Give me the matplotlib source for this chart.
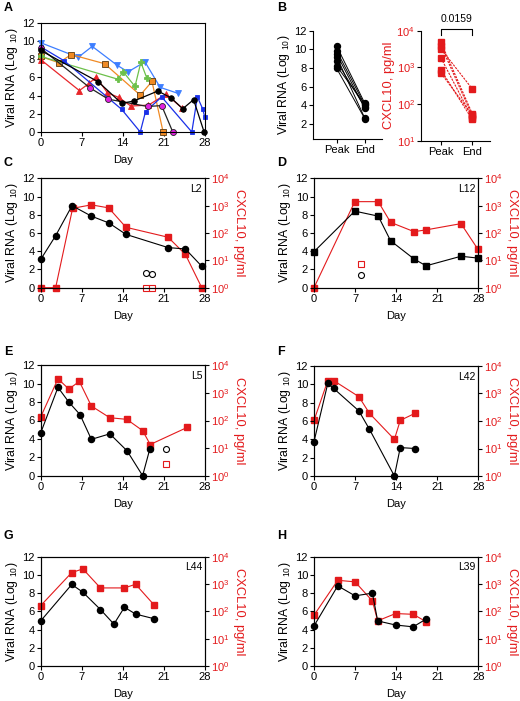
import matplotlib
matplotlib.use('Agg')
import matplotlib.pyplot as plt
import matplotlib.transforms as mtransforms

plt.rcParams['font.family'] = ['Liberation Sans', 'DejaVu Sans']
plt.rcParams['mathtext.fontset'] = 'custom'
plt.rcParams['mathtext.rm'] = 'Liberation Sans'
plt.rcParams['mathtext.it'] = 'Liberation Sans:italic'
plt.rcParams['mathtext.bf'] = 'Liberation Sans:bold'
plt.rcParams['axes.linewidth'] = 0.8
plt.rcParams['xtick.major.width'] = 0.8
plt.rcParams['ytick.major.width'] = 0.8
plt.rcParams['xtick.major.size'] = 2.8
plt.rcParams['ytick.major.size'] = 2.8
plt.rcParams['xtick.major.pad'] = 1.5
plt.rcParams['ytick.major.pad'] = 1.5

RED = '#E31A1C'
TICK_FS = 8
RNA_LABEL = r'Viral RNA (Log $_{10}$)'
CX_LABEL = 'CXCL10, pg/ml'

# ---- panel A: viral RNA of all animals ----
lightblue_days = [0, 6.4, 8.8, 13.0, 14.9, 17.8, 20.4, 23.4]
lightblue_vals = [9.8, 8.2, 9.4, 7.35, 6.6, 7.7, 4.9, 4.25]
orange_days = [0, 3.1, 5.2, 10.9, 17.0, 19.0, 20.9]
orange_vals = [8.3, 7.6, 8.5, 7.5, 4.05, 5.55, 0]
green_days = [0, 13.15, 14.1, 16.1, 17.1, 18.1]
green_vals = [8.3, 5.8, 6.6, 5.0, 7.65, 5.95]
red_days = [0, 6.6, 8.3, 9.45, 11.4, 13.3, 15.4, 18.4, 21.4, 24.2]
red_vals = [7.95, 4.55, 5.35, 6.05, 4.3, 3.8, 2.85, 2.95, 4.15, 2.6]
black_days = [0, 9.85, 13.8, 15.9, 20.0, 22.25, 24.25, 26.1, 27.9]
black_vals = [8.95, 5.5, 3.15, 3.4, 4.5, 3.75, 2.55, 3.55, 0]
magenta_days = [0, 8.4, 11.55, 18.25, 20.65, 22.55]
magenta_vals = [9.2, 4.85, 3.6, 2.8, 2.9, 0]
blue_days = [0, 4.05, 13.8, 17.0, 17.9, 20.65, 25.8, 26.75, 27.65, 28]
blue_vals = [9.35, 7.8, 2.5, 0, 2.25, 3.85, 0, 3.85, 2.55, 1.65]

# ---- panel B: peak vs end ----
b_groups = ['Peak', 'End']
b_peak_rna = [10.35, 9.85, 9.5, 9.2, 8.7, 8.2, 7.95]
b_end_rna = [4.2, 4.0, 3.65, 2.6, 3.8, 4.1, 2.55]
b_peak_cx = [4800, 3900, 3200, 1800, 850, 700]
b_end_cx = [55, 48, 260, 42, 38, 50]
b_pvalue = '0.0159'

# ---- panels C-H: single animals ----
c_days = [0, 2.55, 5.35, 8.65, 11.65, 14.55, 21.75, 24.7, 27.5]
c_rna = [3.1, 5.7, 9.0, 7.85, 7.1, 5.85, 4.4, 4.25, 2.35]
c_cx_days = [0, 2.55, 5.45, 8.65, 11.6, 14.55, 21.75, 24.7, 27.5]
c_cx = [1, 1, 800, 1070, 830, 162, 70, 16.5, 1]
c_open_days = [17.9, 18.95]
c_open_rna = [1.65, 1.5]
c_open_cx = [1, 1]

d_days = [0, 6.95, 10.95, 13.05, 17.05, 19.1, 25.05, 27.9]
d_rna = [3.95, 8.4, 7.85, 5.15, 3.15, 2.4, 3.45, 3.25]
d_cx = [1, 1400, 1400, 245, 112, 130, 220, 26]
d_open_days = [8.05]
d_open_rna = [1.4]
d_open_cx = [7.6]

e_days = [0, 2.95, 4.8, 6.7, 8.65, 11.8, 14.75, 17.4, 18.65]
e_rna = [4.65, 9.6, 8.0, 6.65, 3.95, 4.55, 2.7, 0, 2.95]
e_cx_days = [0, 2.95, 4.8, 6.6, 8.65, 11.8, 14.7, 17.4, 18.7, 25.0]
e_cx = [134, 3250, 1380, 2600, 335, 126, 110, 43, 13.5, 56]
e_open_days = [21.4]
e_open_rna = [2.95]
e_open_cx = [2.6]

f_days = [0, 2.35, 3.35, 7.65, 9.45, 13.7, 14.7, 17.2]
f_rna = [3.75, 10.1, 9.55, 7.1, 5.1, 0, 3.1, 3.0]
f_cx = [105, 2950, 2950, 765, 190, 21.5, 105, 190]

g_days = [0, 5.3, 7.2, 10.2, 12.5, 14.3, 16.2, 19.3]
g_rna = [4.95, 8.95, 8.1, 6.2, 4.6, 6.45, 5.7, 5.2]
g_cx_days = [0, 5.3, 7.2, 10.2, 14.3, 16.2, 19.3]
g_cx = [162, 2630, 3570, 720, 720, 980, 177]

h_days = [0, 4.05, 7.0, 9.95, 10.85, 13.9, 16.9, 19.1]
h_rna = [4.4, 8.8, 7.7, 8.0, 4.95, 4.5, 4.3, 5.15]
h_cx = [72, 1370, 1200, 240, 45, 83, 78, 42]

day_ticks = [0, 7, 14, 21, 28]
rna_ticks = [0, 2, 4, 6, 8, 10, 12]
cx_ticks = [1, 10, 100, 1000, 10000]


def px_axes(fig, x0, x1, y0, y1):
    """Axes from pixel box (top-left origin)."""
    W, H = 520.0, 701.0
    return fig.add_axes([x0 / W, 1 - y1 / H, (x1 - x0) / W, (y1 - y0) / H])


def style_day_axis(ax):
    ax.set_xlim(0, 28)
    ax.set_ylim(0, 12)
    ax.set_xticks(day_ticks)
    ax.set_yticks(rna_ticks)
    ax.tick_params(labelsize=TICK_FS)
    ax.set_xlabel('Day', fontsize=8, labelpad=5)
    ax.set_ylabel(RNA_LABEL, fontsize=8.8, labelpad=1.5)


def single_panel(ax, days, rna, cx_days, cx, name, rna_marker='o',
                 open_days=None, open_rna=None, open_cx=None):
    ax2 = ax.twinx()
    ax2.set_yscale('log')
    ax2.set_ylim(1, 1e4)
    ax2.set_yticks(cx_ticks)
    ax2.minorticks_off()
    ax2.tick_params(axis='y', labelsize=TICK_FS, labelcolor=RED)
    ax2.set_ylabel(CX_LABEL, color=RED, fontsize=9.3, rotation=270, labelpad=11)
    ax2.plot(cx_days, cx, color=RED, marker='s', ms=5, lw=0.8, clip_on=False)
    if open_days:
        ax2.plot(open_days, open_cx, ls='none', marker='s', ms=4.5,
                 mfc='white', mec=RED, mew=0.8, clip_on=False)
    ax.set_zorder(ax2.get_zorder() + 1)
    ax.patch.set_visible(False)
    ms = 4.4 if rna_marker == 'o' else 3.7
    ax.plot(days, rna, color='k', marker=rna_marker, ms=ms, lw=0.8, clip_on=False)
    if open_days:
        ax.plot(open_days, open_rna, ls='none', marker='o', ms=4.3,
                mfc='white', mec='k', mew=0.8, clip_on=False)
    style_day_axis(ax)
    ax.text(0.985, 0.95, name, transform=ax.transAxes, ha='right', va='top',
            fontsize=7.5)


fig = plt.figure(figsize=(5.2, 7.01), dpi=100)

# panel A
axA = px_axes(fig, 40.7, 204.7, 22.7, 132)
series = [
    (lightblue_days, lightblue_vals, '#3D7EFF', 'v', 4.0, '#3D7EFF'),
    (orange_days, orange_vals, '#F08A24', 's', 4.3, '#5A3A10'),
    (green_days, green_vals, '#6CC04A', 'P', 4.0, '#6CC04A'),
    (red_days, red_vals, '#E8262A', '^', 3.8, '#E8262A'),
    (blue_days, blue_vals, '#1A30E8', 's', 3.2, '#1A30E8'),
    (magenta_days, magenta_vals, '#222222', 'o', 4.3, '#222222'),
    (black_days, black_vals, 'k', 'o', 4.0, 'k'),
]
for d, v, col, mk, ms, edge in series:
    face = col
    if col == '#222222':
        face = '#E020E0'
    axA.plot(d, v, color=col, marker=mk, ms=ms, mfc=face, mec=edge, mew=0.6,
             lw=0.9, clip_on=False)
style_day_axis(axA)

# panel B left
axB1 = px_axes(fig, 312.7, 381.7, 30.7, 138.7)
for p, e in zip(b_peak_rna, b_end_rna):
    axB1.plot([0, 1], [p, e], color='k', lw=0.7, marker='o', ms=4.3, clip_on=False)
axB1.set_xlim(-0.85, 1.6)
axB1.set_ylim(0.4, 12)
axB1.set_yticks([2, 4, 6, 8, 10, 12])
axB1.set_xticks([0, 1])
axB1.set_xticklabels(b_groups)
axB1.tick_params(labelsize=TICK_FS)
axB1.spines['top'].set_visible(False)
axB1.spines['right'].set_visible(False)
axB1.set_ylabel(RNA_LABEL, fontsize=8.8, labelpad=1.5)

# panel B right
axB2 = px_axes(fig, 421, 490, 30.7, 140.7)
axB2.set_yscale('log')
for p, e in zip(b_peak_cx, b_end_cx):
    axB2.plot([0, 1], [p, e], color=RED, lw=0.8, ls=(0, (2, 1)), marker='s',
              ms=5, clip_on=False)
axB2.set_xlim(-0.64, 1.57)
axB2.set_ylim(10, 1e4)
axB2.set_yticks([10, 100, 1000, 10000])
axB2.minorticks_off()
axB2.set_xticks([0, 1])
axB2.set_xticklabels(b_groups)
axB2.tick_params(labelsize=TICK_FS)
axB2.tick_params(axis='y', labelcolor=RED)
axB2.spines['top'].set_visible(False)
axB2.spines['right'].set_visible(False)
axB2.set_ylabel(CX_LABEL, color=RED, fontsize=9.3, labelpad=1)
trans = mtransforms.blended_transform_factory(axB2.transData, axB2.transAxes)
axB2.plot([0, 0, 1, 1], [0.96, 1.013, 1.013, 0.96], color='k', lw=0.8,
          transform=trans, clip_on=False)
axB2.text(0.5, 1.06, b_pvalue, transform=trans, ha='center', va='bottom',
          fontsize=7.5)

# panels C-H
axC = px_axes(fig, 40.7, 204.7, 178.3, 287.7)
single_panel(axC, c_days, c_rna, c_cx_days, c_cx, 'L2',
             open_days=c_open_days, open_rna=c_open_rna, open_cx=c_open_cx)
axD = px_axes(fig, 314, 478.3, 178.3, 287.7)
single_panel(axD, d_days, d_rna, d_days, d_cx, 'L12', rna_marker='s',
             open_days=d_open_days, open_rna=d_open_rna, open_cx=d_open_cx)
axE = px_axes(fig, 40.7, 204.7, 365.3, 475.7)
single_panel(axE, e_days, e_rna, e_cx_days, e_cx, 'L5',
             open_days=e_open_days, open_rna=e_open_rna, open_cx=e_open_cx)
axF = px_axes(fig, 314, 478.3, 366, 476)
single_panel(axF, f_days, f_rna, f_days, f_cx, 'L42')
axG = px_axes(fig, 40.7, 204.7, 556.7, 666)
single_panel(axG, g_days, g_rna, g_cx_days, g_cx, 'L44')
axH = px_axes(fig, 314, 478.3, 556.7, 666)
single_panel(axH, h_days, h_rna, h_days, h_cx, 'L39')

# panel letters
for letter, x, y in [('A', 4, 8), ('B', 277, 8), ('C', 4, 163), ('D', 277, 163),
                     ('E', 4, 352), ('F', 277, 352), ('G', 4, 536), ('H', 277, 536)]:
    fig.text(x / 520, 1 - y / 701, letter, fontsize=9, fontweight='bold',
             ha='left', va='center')

fig.savefig('out.png', dpi=100)
